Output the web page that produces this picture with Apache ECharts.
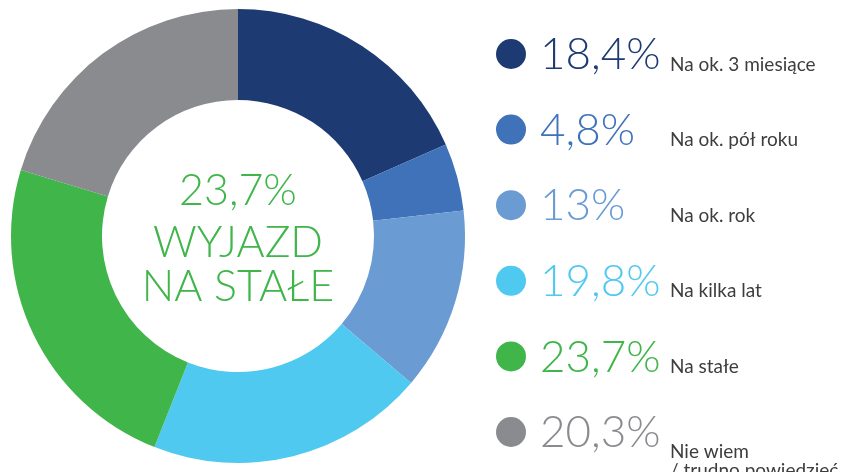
<!DOCTYPE html>
<html>
<head>
<meta charset="utf-8">
<title>Wyjazd - czas</title>
<script src="https://cdn.jsdelivr.net/npm/echarts@6/dist/echarts.min.js"></script>
<style>
  html, body { margin: 0; padding: 0; background: #fff; }
  #chart { width: 849px; height: 472px; }
</style>
</head>
<body>
<div id="chart"></div>
<script>
// dane
const categories = ['Na ok. 3 miesiące', 'Na ok. pół roku', 'Na ok. rok', 'Na kilka lat', 'Na stałe', 'Nie wiem\n/ trudno powiedzieć']
const values = [18.4, 4.8, 13, 19.8, 23.7, 20.3]
const valueLabels = ['18,4%', '4,8%', '13%', '19,8%', '23,7%', '20,3%']
const colors = ['#1d3a72', '#3f72b9', '#6a9bd2', '#50c9f0', '#3fb54a', '#8a8b8f']
const centerLines = ['23,7%', 'WYJAZD', 'NA STAŁE']

const chart = echarts.init(document.getElementById('chart'))

const FONT = 'Lato, "Noto Sans", sans-serif'

// legenda rysowana jako grafika
const legendItems = []
categories.forEach((name, i) => {
  const cy = 54 + i * 75.6
  legendItems.push({
    type: 'circle',
    shape: { cx: 511, cy: cy, r: 15 },
    style: { fill: colors[i] },
    silent: true
  })
  legendItems.push({
    type: 'text',
    x: 540,
    y: cy + 1,
    style: {
      text: valueLabels[i],
      fill: colors[i],
      font: '300 44px ' + FONT,
      verticalAlign: 'middle',
      align: 'left'
    },
    silent: true
  })
  const multi = name.indexOf('\n') >= 0
  legendItems.push({
    type: 'text',
    x: 670,
    y: multi ? cy + 29 : cy + 20,
    style: {
      text: name,
      fill: '#3d3d3d',
      font: '19px ' + FONT,
      lineHeight: 19,
      verticalAlign: multi ? 'middle' : 'bottom',
      align: 'left'
    },
    silent: true
  })
})

const centerText = centerLines.map((t, i) => ({
  type: 'text',
  x: 238,
  y: [191, 243, 287][i],
  style: {
    text: t,
    fill: '#3fb54a',
    font: '300 43px ' + FONT,
    align: 'center',
    verticalAlign: 'middle'
  },
  silent: true
}))

const option = {
  backgroundColor: '#fff',
  animation: false,
  series: [{
    type: 'pie',
    center: [238, 236],
    radius: [136, 227],
    startAngle: 90,
    clockwise: true,
    silent: true,
    label: { show: false },
    labelLine: { show: false },
    itemStyle: { borderWidth: 0 },
    data: categories.map((name, i) => ({
      name: name,
      value: values[i],
      itemStyle: { color: colors[i] }
    }))
  }],
  graphic: centerText.concat(legendItems)
}

chart.setOption(option)
</script>
</body>
</html>
